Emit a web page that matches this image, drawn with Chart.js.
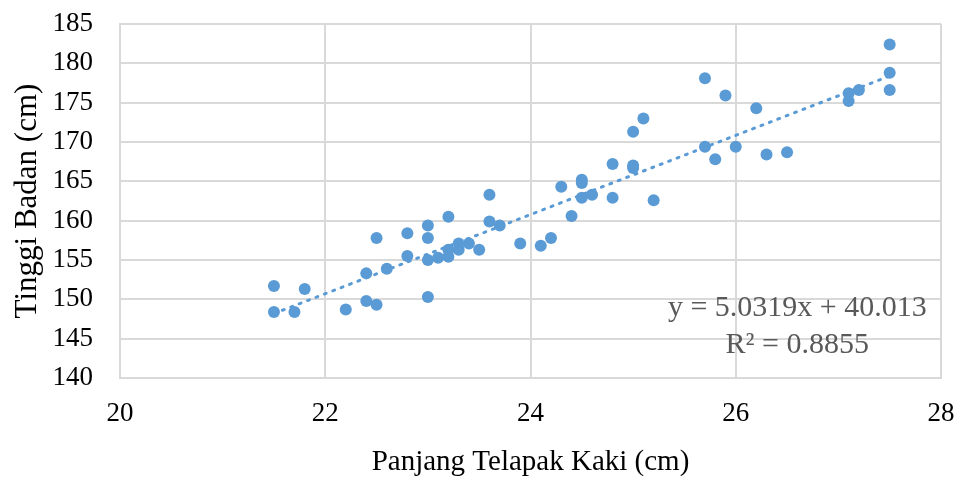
<!DOCTYPE html>
<html>
<head>
<meta charset="utf-8">
<script src="https://cdn.jsdelivr.net/npm/chart.js@4.4.1/dist/chart.umd.min.js"></script>
<style>
  html, body { margin: 0; padding: 0; background: #fff; }
  #wrap { width: 957px; height: 482px; }
</style>
</head>
<body>
<div id="wrap"><canvas id="chart" width="957" height="482"></canvas></div>
<script>
// ===== Data =====
// Panjang telapak kaki (cm) vs tinggi badan (cm)
const kaki = [
  21.5, 21.5, 21.7, 21.8, 22.2, 22.4, 22.4, 22.5, 22.5, 22.6,
  22.8, 22.8, 23.0, 23.0, 23.0, 23.0, 23.1, 23.2, 23.2, 23.2,
  23.3, 23.3, 23.4, 23.5, 23.6, 23.6, 23.7, 23.9, 24.1, 24.2,
  24.3, 24.4, 24.5, 24.5, 24.5, 24.6, 24.8, 24.8, 25.0, 25.0,
  25.0, 25.1, 25.2, 25.7, 25.7, 25.8, 25.9, 26.0, 26.2, 26.3,
  26.5, 27.1, 27.1, 27.2, 27.5, 27.5, 27.5
];
const tinggi = [
  151.7, 148.4, 148.4, 151.3, 148.7, 153.3, 149.8, 149.3, 157.8, 153.9,
  158.4, 155.5, 159.4, 157.8, 155.0, 150.3, 155.3, 160.5, 156.3, 155.4,
  157.1, 156.3, 157.1, 156.3, 163.3, 159.9, 159.4, 157.1, 156.8, 157.8,
  164.3, 160.6, 165.2, 164.8, 162.9, 163.3, 167.2, 162.9, 171.3, 167.0,
  166.7, 173.0, 162.6, 178.1, 169.4, 167.8, 175.9, 169.4, 174.3, 168.4,
  168.7, 176.2, 175.2, 176.6, 182.4, 178.8, 176.6
];

// Linear trendline shown on the chart
const slope = 5.0319;
const intercept = 40.013;
const eqLabel = 'y = 5.0319x + 40.013';
const r2Label = 'R\u00b2 = 0.8855';

// Axis ticks
const xTicks = [20, 22, 24, 26, 28];
const yTicks = [140, 145, 150, 155, 160, 165, 170, 175, 180, 185];

const blue = '#5b9bd5';
const gridColor = '#d9d9d9';
const serif = '"Liberation Serif", "Times New Roman", serif';

const points = kaki.map((x, i) => ({ x, y: tinggi[i] }));
const xMin = Math.min(...kaki);
const xMax = Math.max(...kaki);
const trend = [xMin, xMax].map(x => ({ x, y: slope * x + intercept }));

// ===== Equation label =====
const eqPlugin = {
  id: 'eqLabel',
  afterDatasetsDraw(chart) {
    const { ctx, scales } = chart;
    const cx = scales.x.getPixelForValue(26.6);
    ctx.save();
    ctx.fillStyle = '#595959';
    ctx.font = '30px ' + serif;
    ctx.textAlign = 'center';
    ctx.textBaseline = 'middle';
    ctx.fillText(eqLabel, cx, scales.y.getPixelForValue(148.9));
    ctx.fillText(r2Label, cx, scales.y.getPixelForValue(144.2));
    ctx.restore();
  }
};

new Chart(document.getElementById('chart'), {
  type: 'scatter',
  data: {
    datasets: [
      {
        label: 'Tinggi Badan',
        data: points,
        backgroundColor: blue,
        borderColor: blue,
        pointRadius: 6,
        pointHoverRadius: 6,
        borderWidth: 0
      },
      {
        type: 'line',
        label: 'Linear',
        data: trend,
        borderColor: blue,
        borderWidth: 3,
        borderDash: [2, 7],
        borderCapStyle: 'round',
        pointRadius: 0,
        fill: false
      }
    ]
  },
  plugins: [eqPlugin],
  options: {
    responsive: false,
    animation: false,
    events: [],
    layout: { padding: { left: 0, right: 16, top: 24, bottom: 0 } },
    plugins: { legend: { display: false }, tooltip: { enabled: false } },
    scales: {
      x: {
        type: 'linear',
        min: 20,
        max: 28,
        afterBuildTicks: s => { s.ticks = xTicks.map(v => ({ value: v })); },
        afterFit: s => { s.height = 104; s.paddingLeft = 0; s.paddingRight = 0; },
        grid: { color: gridColor, lineWidth: 2, drawTicks: false },
        border: { color: gridColor, width: 2 },
        ticks: { color: '#000', padding: 20, font: { family: serif, size: 27 } },
        title: {
          display: true,
          text: 'Panjang Telapak Kaki (cm)',
          color: '#000',
          font: { family: serif, size: 29 },
          padding: { top: 0, bottom: 2 }
        }
      },
      y: {
        type: 'linear',
        min: 140,
        max: 185,
        afterBuildTicks: s => { s.ticks = yTicks.map(v => ({ value: v })); },
        afterFit: s => { s.width = 120; s.paddingTop = 0; s.paddingBottom = 0; },
        grid: { color: gridColor, lineWidth: 2, drawTicks: false },
        border: { color: gridColor, width: 2 },
        ticks: { color: '#000', padding: 27, font: { family: serif, size: 27 } },
        title: {
          display: true,
          text: 'Tinggi Badan (cm)',
          color: '#000',
          font: { family: serif, size: 31 },
          padding: { top: 9, bottom: 0 }
        }
      }
    }
  }
});
</script>
</body>
</html>
